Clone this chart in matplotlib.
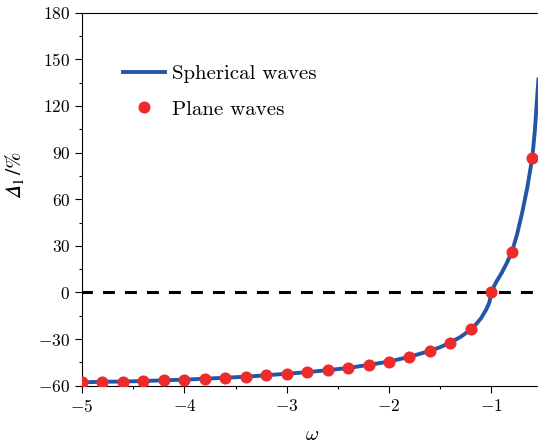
import matplotlib
matplotlib.use("Agg")
import matplotlib.pyplot as plt
from matplotlib.ticker import MultipleLocator

plt.rcParams['font.family'] = 'serif'
plt.rcParams['font.serif'] = ['cmr10']
plt.rcParams['mathtext.fontset'] = 'cm'
plt.rcParams['axes.formatter.use_mathtext'] = True
plt.rcParams['axes.unicode_minus'] = True

# Plane-wave points
plane_w = [-5.0, -4.8, -4.6, -4.4, -4.2, -4.0, -3.8, -3.6, -3.4, -3.2, -3.0,
           -2.8, -2.6, -2.4, -2.2, -2.0, -1.8, -1.6, -1.4, -1.2, -1.0, -0.8, -0.6]
plane_d = [-57.8, -57.5, -57.3, -57.0, -56.4, -56.1, -55.5, -54.9, -54.2, -53.3, -52.3,
           -51.4, -49.9, -48.6, -46.5, -44.6, -41.3, -37.7, -32.3, -23.7, 0.0, 26.0, 86.7]

# Spherical-wave curve
sph_w = [-5.0, -4.8, -4.6, -4.4, -4.2, -4.0, -3.8, -3.6, -3.4, -3.2, -3.0,
         -2.8, -2.6, -2.4, -2.2, -2.0, -1.8, -1.6, -1.5, -1.4, -1.3, -1.2, -1.15,
         -1.1, -1.05, -1.02, -1.0, -0.97, -0.95, -0.9, -0.85, -0.8, -0.75, -0.7, -0.65,
         -0.6, -0.575, -0.55, -0.54]
sph_d = [-57.8, -57.5, -57.3, -57.0, -56.5, -56.1, -55.5, -54.9, -54.2, -53.3, -52.3,
         -51.3, -50.0, -48.6, -46.6, -44.5, -41.4, -37.6, -35.2, -32.2, -28.6, -23.8, -20.5,
         -16.5, -11.0, -6.5, 0.0, 4.5, 7.0, 12.5, 18.8, 26.0, 37.0, 51.0, 67.0,
         86.7, 104.0, 128.0, 137.0]

xticks = [-5, -4, -3, -2, -1]
yticks = [-60, -30, 0, 30, 60, 90, 120, 150, 180]

fig = plt.figure(figsize=(5.38, 4.46), dpi=100)
ax = fig.add_axes([0.1524, 0.1352, 1.0084 - 0.1524, 0.9715 - 0.1352])

ax.axhline(0, color='black', lw=2.2, ls=(0.5, (3.9, 3.3)), zorder=1)
ax.plot(sph_w, sph_d, color='#2456a6', lw=2.8, label='Spherical waves', zorder=2)
ax.plot(plane_w, plane_d, 'o', color='#ee2b2b', ms=8.7, mec='none',
        label='Plane waves', zorder=3)

ax.set_xlim(-5, -0.5)
ax.set_ylim(-60, 180)
ax.set_xticks(xticks)
ax.set_yticks(yticks)
ax.xaxis.set_minor_locator(MultipleLocator(0.5))
ax.yaxis.set_minor_locator(MultipleLocator(15))
ax.tick_params(which='major', direction='out', length=5, width=0.8, labelsize=12.5)
ax.tick_params(which='minor', direction='out', length=2.5, width=0.8)
for s in ax.spines.values():
    s.set_linewidth(0.8)

ax.set_xlabel(r'$\omega$', fontsize=14.5)
ax.xaxis.set_label_coords(0.5, -0.108)
ax.set_ylabel('$\U0001D6E5_{1}\\,/\\%$', fontsize=16, math_fontfamily='stix')
ax.yaxis.set_label_coords(-0.122, 0.565)

leg = ax.legend(loc='upper left', bbox_to_anchor=(0.071, 0.883), frameon=False,
                fontsize=15, handlelength=2.0, labelspacing=0.8, handletextpad=0.33,
                borderaxespad=0.0)

fig.savefig('out.png', dpi=100)
